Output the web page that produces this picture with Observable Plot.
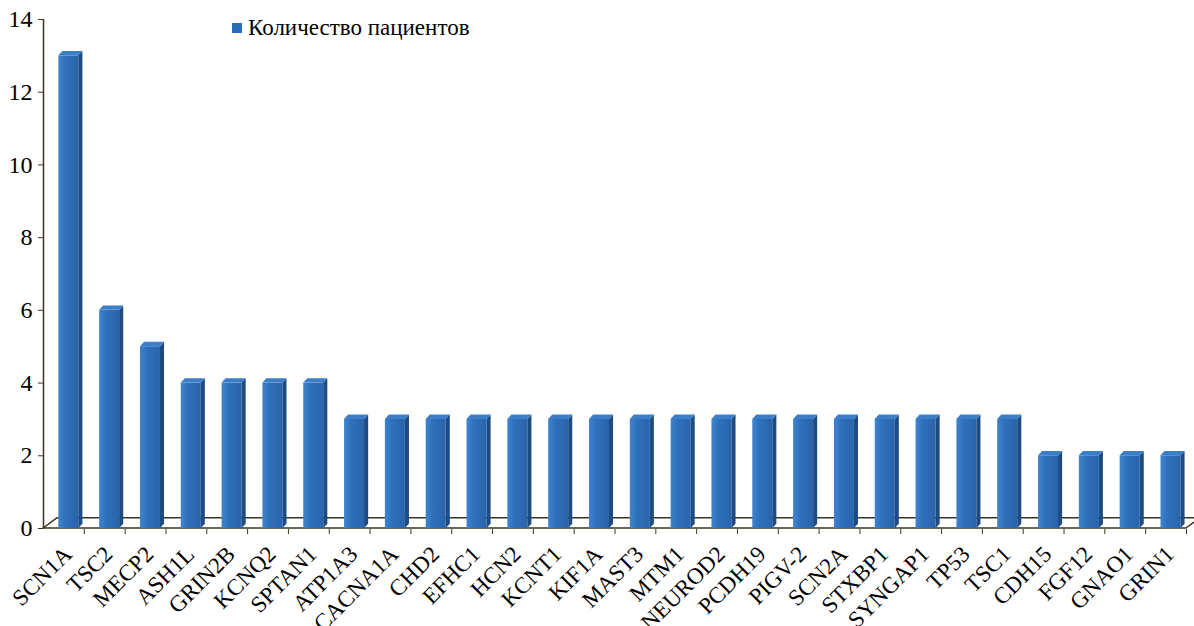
<!DOCTYPE html>
<html><head><meta charset="utf-8">
<script src="https://cdn.jsdelivr.net/npm/d3@7"></script>
<script src="https://cdn.jsdelivr.net/npm/@observablehq/plot@0.6"></script>
<style>
body{margin:0;background:#fff;}
#wrap{position:relative;width:1194px;height:626px;font-family:"Liberation Serif","Times New Roman",serif;}
#legend{position:absolute;left:232px;top:14px;font-size:23px;line-height:28px;display:flex;align-items:center;color:#000;}
#legend .sw{width:10px;height:10px;background:#2B6CB8;margin-right:6px;display:inline-block}
</style></head>
<body><div id="wrap"><div id="legend"><span class="sw"></span><span>Количество пациентов</span></div></div>
<script>
const categories = ["SCN1A","TSC2","MECP2","ASH1L","GRIN2B","KCNQ2","SPTAN1","ATP1A3","CACNA1A","CHD2","EFHC1","HCN2","KCNT1","KIF1A","MAST3","MTM1","NEUROD2","PCDH19","PIGV-2","SCN2A","STXBP1","SYNGAP1","TP53","TSC1","CDH15","FGF12","GNAO1","GRIN1"];
const values = [13,6,5,4,4,4,4,3,3,3,3,3,3,3,3,3,3,3,3,3,3,3,3,3,2,2,2,2];
const yTicks = [0,2,4,6,8,10,12,14];

const n = categories.length;
const data = categories.map((c, i) => ({name: c, i, v: values[i]}));

// geometry (in scale units)
const BW = 0.245, OX = 0.12, DX = 0.1, DY = 0.12;
const FDX = 0.34, FDY = 0.28;
const AX = "#3b3422";

const sideData = data.flatMap(d => [
  {k: d.i, x: d.i + 0.5 + OX + BW, y1: 0, y2: d.v},
  {k: d.i, x: d.i + 0.5 + OX + BW + DX, y1: DY, y2: d.v + DY}
]);
const topData = data.flatMap(d => [
  {k: d.i, y: d.v, x1: d.i + 0.5 + OX - BW, x2: d.i + 0.5 + OX + BW},
  {k: d.i, y: d.v + DY, x1: d.i + 0.5 + OX - BW + DX, x2: d.i + 0.5 + OX + BW + DX}
]);
const floorData = [
  {y: 0, x1: 0, x2: n},
  {y: FDY, x1: FDX, x2: n + FDX}
];
const boundaries = d3.range(1, n + 1);

const defs = () => {
  const svg = d3.create("svg:defs");
  const g = svg.append("linearGradient").attr("id", "front").attr("x1", "0").attr("x2", "1").attr("y1", "0").attr("y2", "0");
  g.append("stop").attr("offset", "0%").attr("stop-color", "#3f84d0");
  g.append("stop").attr("offset", "35%").attr("stop-color", "#2f70bb");
  g.append("stop").attr("offset", "100%").attr("stop-color", "#2964ab");
  return svg.node();
};

const chart = Plot.plot({
  width: 1194,
  height: 626,
  marginLeft: 43,
  marginRight: 8,
  marginTop: 19,
  marginBottom: 98,
  style: {fontFamily: "Liberation Serif, Times New Roman, serif", fontSize: "23px", background: "#fff", color: "#000"},
  x: {type: "linear", domain: [0, n], axis: null},
  y: {domain: [0, 14], axis: null},
  marks: [
    defs,
    Plot.areaX(floorData, {y: "y", x1: "x1", x2: "x2", fill: "#fff", stroke: AX, strokeWidth: 1.5}),
    Plot.rect(data, {x1: d => d.i + 0.5 + OX - BW, x2: d => d.i + 0.5 + OX + BW, y1: 0, y2: "v", fill: "url(#front)"}),
    Plot.areaY(sideData, {x: "x", y1: "y1", y2: "y2", z: "k", fill: "#1e4b82"}),
    Plot.areaX(topData, {y: "y", x1: "x1", x2: "x2", z: "k", fill: "#3c7dc8"}),
    Plot.ruleX([0], {y1: 0, y2: 14, stroke: AX, strokeWidth: 1.5}),
    Plot.axisY(yTicks, {tickSize: 5, tickPadding: 6, stroke: AX, fill: "#000", fontSize: 24}),
    Plot.axisX(boundaries, {tickSize: 5, tickFormat: () => "", stroke: AX, dy: 1}),
    Plot.text(data, {x: d => d.i + 0.5, y: 0, text: "name", rotate: -45, textAnchor: "end", dx: 4, dy: 22, fontSize: 23, fill: "#000"})
  ]
});
document.getElementById("wrap").appendChild(chart);
chart.style.position = "absolute";
chart.style.left = "0";
chart.style.top = "0";
document.getElementById("legend").style.zIndex = 2;
</script>
</body></html>
